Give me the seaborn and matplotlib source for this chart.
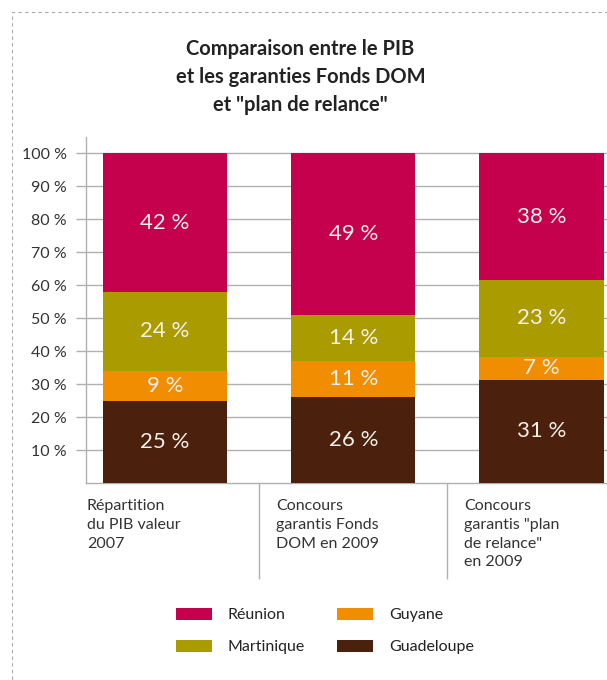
import matplotlib
matplotlib.use("Agg")
import matplotlib.pyplot as plt
from matplotlib.patches import Patch, Rectangle
import matplotlib.transforms as mtransforms
import seaborn as sns
import pandas as pd

# data
categories = ["Répartition\ndu PIB valeur\n2007",
              "Concours\ngarantis Fonds\nDOM en 2009",
              "Concours\ngarantis \"plan\nde relance\"\nen 2009"]
regions = ["Guadeloupe", "Guyane", "Martinique", "Réunion"]
guadeloupe = [25, 26, 31]
guyane = [9, 11, 7]
martinique = [24, 14, 23]
reunion = [42, 49, 38]
colors = {"Réunion": "#c5004c", "Martinique": "#aa9c00",
          "Guyane": "#f18d00", "Guadeloupe": "#4b210d"}

df = pd.DataFrame({"cat": ["c0", "c1", "c2"], "Guadeloupe": guadeloupe,
                   "Guyane": guyane, "Martinique": martinique, "Réunion": reunion})
totals = df[regions].sum(axis=1)

sns.set_style("white")
plt.rcParams["font.family"] = ["Lato", "DejaVu Sans"]

fig = plt.figure(figsize=(6.07, 6.80), dpi=100)
ax = fig.add_axes([86 / 607, 197 / 680, 521 / 607, 346 / 680])

bottom = pd.Series([0.0, 0.0, 0.0])
for r in regions:
    share = df[r] / totals * 100
    sns.barplot(x=df["cat"], y=share, bottom=bottom, color=colors[r],
                width=0.66, saturation=1, linewidth=0, ax=ax, zorder=3)
    ax.bar_label(ax.containers[-1], labels=[f"{v} %" for v in df[r]],
                 label_type="center", color="#f4f0ea", fontsize=16,
                 zorder=5)
    bottom = bottom + share

ax.set_xlim(-0.42, 2.348)
ax.set_ylim(0, 105)
ax.set_yticks(range(10, 101, 10))
ax.set_yticklabels([f"{v} %" for v in range(10, 101, 10)])
ax.yaxis.grid(True, color="#b0b0b0", linewidth=1, zorder=0)
ax.set_axisbelow(True)
ax.tick_params(axis="y", length=7, color="#b0b0b0", width=1, pad=7,
               labelsize=11.5, labelcolor="#333333", left=True)
ax.set_xlabel("")
ax.set_ylabel("")
ax.set_xticks([0, 1, 2])
ax.set_xticklabels([])
ax.tick_params(axis="x", which="major", length=0)
ax.set_xticks([0.5, 1.5], minor=True)
ax.tick_params(axis="x", which="minor", length=69, color="#b0b0b0",
               width=1, bottom=True)
for s in ["top", "right"]:
    ax.spines[s].set_visible(False)
for s in ["left", "bottom"]:
    ax.spines[s].set_color("#b0b0b0")
    ax.spines[s].set_linewidth(1)

trans = mtransforms.blended_transform_factory(ax.transData, ax.transAxes)
for x, lab in zip([-0.415, 0.59, 1.59], categories):
    ax.text(x, -0.047, lab, transform=trans, ha="left", va="top",
            fontsize=11.5, color="#333333", linespacing=1.42)

fig.text(0.495, 1 - 39 / 680,
         "Comparaison entre le PIB\net les garanties Fonds DOM\net \"plan de relance\"",
         ha="center", va="top", fontsize=14.5, fontweight="bold",
         color="#222222", linespacing=1.5)

order = ["Réunion", "Martinique", "Guyane", "Guadeloupe"]
handles = [Patch(facecolor=colors[r], edgecolor="none", label=r) for r in order]
fig.legend(handles=handles, ncol=2, loc="upper left",
           bbox_to_anchor=(176 / 607, 1 - 608 / 680), frameon=False,
           fontsize=11.5, handlelength=2.25, handleheight=0.75,
           handletextpad=1.0, columnspacing=2.0, labelspacing=1.1,
           borderpad=0, borderaxespad=0, labelcolor="#222222")

fig.add_artist(Rectangle((12 / 607, -0.1), 1.2, 1.1 - 12 / 680,
                         transform=fig.transFigure, fill=False,
                         edgecolor="#aaaaaa", linewidth=0.8,
                         linestyle=(0, (3, 3)), clip_on=False))

fig.savefig("out.png", dpi=100)
